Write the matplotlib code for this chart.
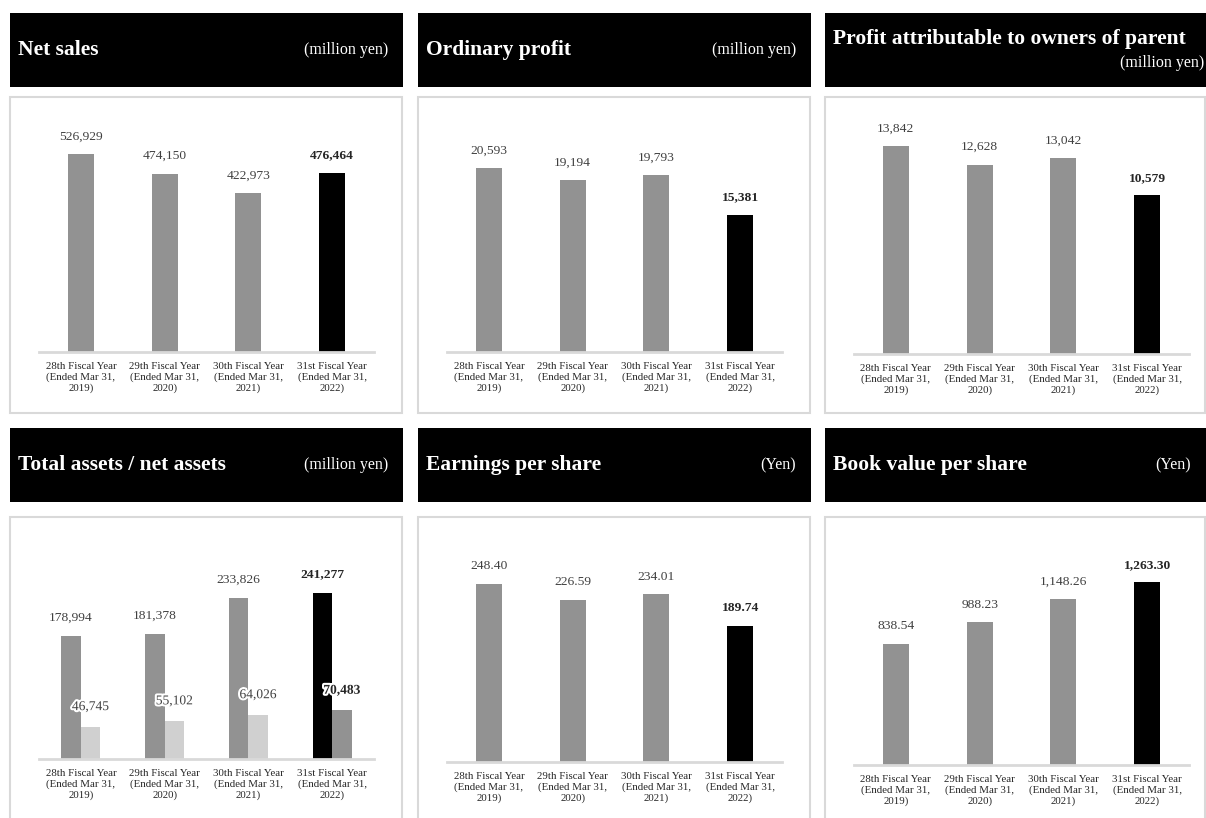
## Six financial highlight panels (bar charts) in a 3x2 grid

import matplotlib
matplotlib.use('Agg')
import matplotlib.pyplot as plt
from matplotlib.patches import Rectangle
import matplotlib.patheffects as pe
import numpy as np

plt.rcParams['font.family'] = ['Liberation Serif', 'DejaVu Serif']

# data
years = ['28th Fiscal Year\n(Ended Mar 31,\n2019)',
         '29th Fiscal Year\n(Ended Mar 31,\n2020)',
         '30th Fiscal Year\n(Ended Mar 31,\n2021)',
         '31st Fiscal Year\n(Ended Mar 31,\n2022)']

net_sales = [526929, 474150, 422973, 476464]
ordinary_profit = [20593, 19194, 19793, 15381]
profit_owners = [13842, 12628, 13042, 10579]
total_assets = [178994, 181378, 233826, 241277]
net_assets = [46745, 55102, 64026, 70483]
eps = [248.40, 226.59, 234.01, 189.74]
bvps = [838.54, 988.23, 1148.26, 1263.30]

W, H = 1206, 818
GREY = '#929292'
LIGHT = '#d0d0d0'
BORDER = '#d9d9d9'

fig = plt.figure(figsize=(W / 100, H / 100), dpi=100)
fig.patch.set_facecolor('white')


def px_rect(x, y, w, h):
    # pixel box (top-left origin) -> figure fraction
    return [x / W, 1 - (y + h) / H, w / W, h / H]


def header(x, y, w, h, title, unit, two_line=False):
    fig.add_artist(Rectangle((x / W, 1 - (y + h) / H), w / W, h / H,
                             transform=fig.transFigure, facecolor='black',
                             edgecolor='none', zorder=0))
    if two_line:
        fig.text((x + 8) / W, 1 - (y + 26) / H, title, color='white',
                 fontsize=15.5, fontweight='bold', va='center', ha='left')
        fig.text((W - 2) / W, 1 - (y + 50) / H, unit, color='white',
                 fontsize=11.5, va='center', ha='right')
    else:
        fig.text((x + 8) / W, 1 - (y + h / 2) / H, title, color='white',
                 fontsize=15.5, fontweight='bold', va='center', ha='left')
        fig.text((min(x + w, W) - 15) / W, 1 - (y + h / 2) / H, unit,
                 color='white', fontsize=11.5, va='center', ha='right')


def box(x, y, w, h):
    fig.add_artist(Rectangle((x / W, 1 - (y + h) / H), w / W, h / H,
                             transform=fig.transFigure, facecolor='white',
                             edgecolor=BORDER, linewidth=1.5, zorder=0))


def make_axes(bx, base_y, top_y):
    ax = fig.add_axes(px_rect(bx + 29, top_y, 335, base_y - top_y))
    ax.set_facecolor('none')
    for s in ['top', 'right', 'left']:
        ax.spines[s].set_visible(False)
    ax.spines['bottom'].set_color(BORDER)
    ax.spines['bottom'].set_linewidth(2)
    ax.set_yticks([])
    ax.set_xlim(-0.5, 3.5)
    ax.set_xticks(range(4))
    ax.set_xticklabels(years, fontsize=7.8, color='#262626', linespacing=1.2)
    ax.tick_params(axis='x', length=0, pad=7)
    return ax


def label(ax, x, y, text, bold=False, dy=10.5, glow=False):
    t = ax.annotate(text, (x, y), xytext=(0, dy), textcoords='offset points',
                    ha='center', va='baseline', fontsize=9.7,
                    color='#262626' if bold else '#404040',
                    fontweight='bold' if bold else 'normal')
    if glow:
        t.set_path_effects([pe.withStroke(linewidth=3, foreground='white')])


def single_chart(bx, base_y, top_y, vals, ymax, fmt):
    ax = make_axes(bx, base_y, top_y)
    x = np.arange(4)
    colors = [GREY, GREY, GREY, 'black']
    ax.bar(x, vals, width=0.31, color=colors)
    ax.set_ylim(0, ymax)
    for i, v in enumerate(vals):
        label(ax, i, v, fmt.format(v), bold=(i == 3))
    return ax


cols = [10, 418, 825]
col_w = 393

# row 1
header(cols[0], 13, col_w, 74, 'Net sales', '(million yen)')
header(cols[1], 13, col_w, 74, 'Ordinary profit', '(million yen)')
header(cols[2], 13, col_w, 74, 'Profit attributable to owners of parent',
       '(million yen)', two_line=True)
for c in cols:
    box(c, 97, 392 if c != 825 else 380, 316)

single_chart(cols[0], 352, 117, net_sales, 625000, '{:,.0f}')
single_chart(cols[1], 352, 117, ordinary_profit, 26300, '{:,.0f}')
single_chart(cols[2], 354, 117, profit_owners, 15800, '{:,.0f}')

# row 2
header(cols[0], 428, col_w, 74, 'Total assets / net assets', '(million yen)')
header(cols[1], 428, col_w, 74, 'Earnings per share', '(Yen)')
header(cols[2], 428, col_w, 74, 'Book value per share', '(Yen)')
for c in cols:
    box(c, 517, 392 if c != 825 else 380, 320)

# total assets / net assets grouped bars
ax = make_axes(cols[0], 759, 537)
x = np.arange(4)
bw = 0.233
ax.bar(x - bw / 2, total_assets, width=bw,
       color=[GREY, GREY, GREY, 'black'])
ax.bar(x + bw / 2, net_assets, width=bw,
       color=[LIGHT, LIGHT, LIGHT, GREY])
ax.set_ylim(0, 322000)
for i in range(4):
    label(ax, i - bw / 2, total_assets[i], '{:,.0f}'.format(total_assets[i]),
          bold=(i == 3), dy=11)
    label(ax, i + bw / 2, net_assets[i], '{:,.0f}'.format(net_assets[i]),
          bold=(i == 3), dy=12, glow=True)

single_chart(cols[1], 762, 537, eps, 314, '{:,.2f}')
single_chart(cols[2], 765, 537, bvps, 1578, '{:,.2f}')

fig.savefig('out.png', dpi=100, facecolor='white')
